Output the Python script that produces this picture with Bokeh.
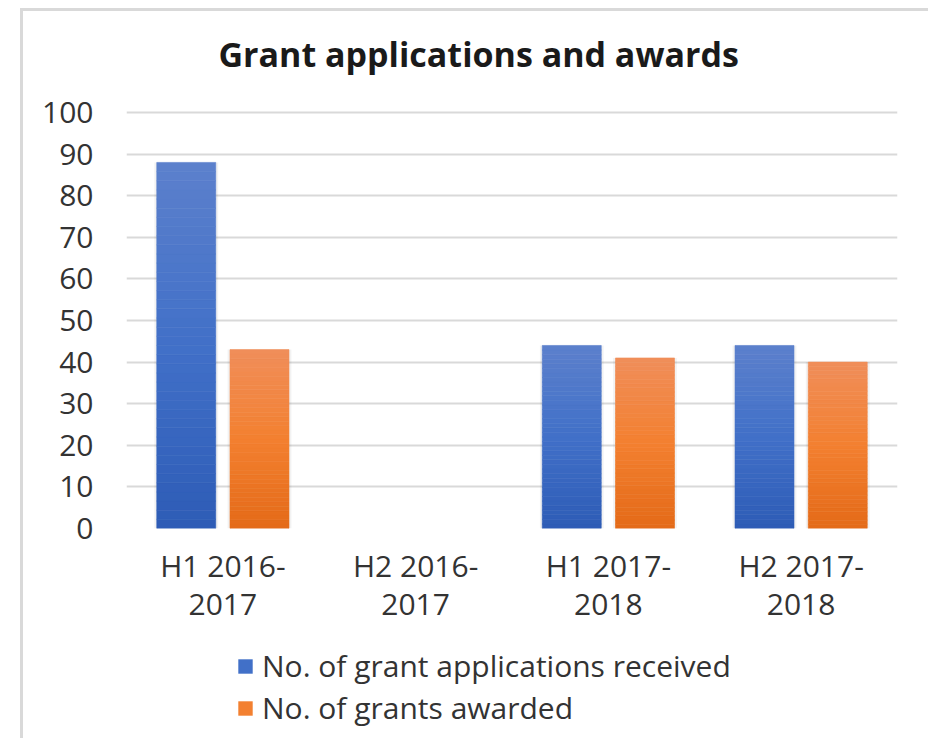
from bokeh.plotting import figure
from bokeh.layouts import column
from bokeh.models import (Range1d, LinearAxis, Legend, LegendItem,
                          ColumnDataSource, FixedTicker)
from bokeh.embed import file_html
from bokeh.resources import INLINE

# ---- data ----
categories = ["H1 2016-2017", "H2 2016-2017", "H1 2017-2018", "H2 2017-2018"]
label_line1 = ["H1 2016-", "H2 2016-", "H1 2017-", "H2 2017-"]
label_line2 = ["2017", "2017", "2018", "2018"]
applications = [88, 0, 44, 44]
awarded = [43, 0, 41, 40]
series_names = ["No. of grant applications received", "No. of grants awarded"]
y_ticks = [0, 10, 20, 30, 40, 50, 60, 70, 80, 90, 100]

# gradient stops (bottom, middle, top)
blue_stops = [(46, 92, 182), (65, 112, 200), (92, 128, 204)]
orange_stops = [(228, 106, 24), (243, 128, 48), (240, 142, 90)]

FONT = "Open Sans"
TXT = "#333333"
FS = "30px"
CANVAS_W = 905

# layout: the value-100 gridline sits 416 px above the baseline; the frame reaches
# 32 px higher so that the title fits above it
PX_PER_100 = 416
FRAME_H = 448
Y_MAX = 100 * FRAME_H / PX_PER_100

p = figure(frame_width=771, frame_height=FRAME_H,
           x_range=Range1d(0, len(categories)), y_range=Range1d(0, Y_MAX),
           output_backend="svg", toolbar_location=None, x_axis_type=None,
           min_border_left=103, min_border_right=31, min_border_top=69, min_border_bottom=110,
           background_fill_color="white", border_fill_color="white", outline_line_color=None,
           title="Grant applications and awards")

p.title.align = "left"
p.title.offset = 92
p.title.standoff = 8
p.title.text_font = FONT
p.title.text_font_style = "bold"
p.title.text_font_size = "34px"
p.title.text_color = "#1a1a1a"

centers = [i + 0.5 for i in range(len(categories))]


def grad_color(stops, t):
    if t < 0.5:
        a, b, f = stops[0], stops[1], t / 0.5
    else:
        a, b, f = stops[1], stops[2], (t - 0.5) / 0.5
    c = [int(round(a[i] + (b[i] - a[i]) * f)) for i in range(3)]
    return "#%02x%02x%02x" % tuple(c)


N = 40


def bar_source(values, offset, stops):
    xs, bots, tops, cols = [], [], [], []
    for cx, v in zip(centers, values):
        if v <= 0:
            continue
        for i in range(N):
            xs.append(cx + offset)
            bots.append(v * i / N)
            tops.append(v * (i + 1) / N)
            cols.append(grad_color(stops, (i + 0.5) / N))
    return ColumnDataSource(dict(x=xs, bottom=bots, top=tops, color=cols))


BW = 0.306
OFF = 0.19
# soft shadows
for vals, off in ((applications, -OFF), (awarded, OFF)):
    src = ColumnDataSource(dict(x=[c + off for c in centers], top=vals))
    p.vbar(x="x", top="top", bottom=0, width=BW + 0.025, source=src,
           fill_color="#000000", fill_alpha=0.05, line_color=None)

r_app = p.vbar(x="x", top="top", bottom="bottom", width=BW,
               source=bar_source(applications, -OFF, blue_stops),
               fill_color="color", line_color="color", line_width=0.6)
r_awd = p.vbar(x="x", top="top", bottom="bottom", width=BW,
               source=bar_source(awarded, OFF, orange_stops),
               fill_color="color", line_color="color", line_width=0.6)

# grid / axes
p.ygrid.ticker = FixedTicker(ticks=y_ticks)
p.ygrid.grid_line_color = "#d9d9d9"
p.ygrid.grid_line_width = 2
p.xgrid.grid_line_color = None

p.yaxis.ticker = FixedTicker(ticks=y_ticks)
p.yaxis.axis_line_color = None
p.yaxis.major_tick_line_color = None
p.yaxis.minor_tick_line_color = None
p.yaxis.major_tick_out = 0
p.yaxis.major_label_standoff = 33
p.yaxis.major_label_text_font = FONT
p.yaxis.major_label_text_font_size = FS
p.yaxis.major_label_text_color = TXT


def cat_axis(labels, standoff):
    return LinearAxis(ticker=FixedTicker(ticks=centers, minor_ticks=[]),
                      major_label_overrides={c: t for c, t in zip(centers, labels)},
                      axis_line_color=None, major_tick_line_color=None,
                      minor_tick_line_color=None, major_tick_out=0, minor_tick_out=0,
                      major_label_standoff=standoff, major_label_text_font=FONT,
                      major_label_text_font_size=FS, major_label_text_color=TXT)


p.add_layout(cat_axis(label_line1, 16), "below")
p.add_layout(cat_axis(label_line2, 5), "below")

# ---- legend strip (second figure under the chart) ----
pl = figure(width=CANVAS_W, height=100, x_range=Range1d(0, 1), y_range=Range1d(0, 1),
            output_backend="svg", toolbar_location=None, x_axis_type=None, y_axis_type=None,
            min_border=0, background_fill_color="white", border_fill_color="white",
            outline_line_color=None)
pl.xgrid.grid_line_color = None
pl.ygrid.grid_line_color = None
# key renderers: one swatch each, kept below the visible range (only the legend shows them)
key = dict(x=[0.5], top=[-5], bottom=[-6])
k_app = pl.vbar(x="x", top="top", bottom="bottom", width=0.1, source=ColumnDataSource(key),
                fill_color=grad_color(blue_stops, 0.5), line_color=None)
k_awd = pl.vbar(x="x", top="top", bottom="bottom", width=0.1, source=ColumnDataSource(key),
                fill_color=grad_color(orange_stops, 0.5), line_color=None)

legend = Legend(items=[LegendItem(label=series_names[0], renderers=[k_app]),
                       LegendItem(label=series_names[1], renderers=[k_awd])],
                location=(110, 10), orientation="vertical",
                label_text_font=FONT, label_text_font_size="30px", label_text_color=TXT,
                glyph_width=18, glyph_height=18, label_standoff=8,
                spacing=1, border_line_color=None, background_fill_alpha=0,
                padding=0, margin=0)
pl.add_layout(legend, "center")

layout = column(p, pl, spacing=0,
                styles={"margin-left": "20px", "margin-top": "8px",
                        "border-left": "3px solid #d9d9d9", "border-top": "3px solid #d9d9d9"})

open("out.html", "w").write(file_html(layout, INLINE))
